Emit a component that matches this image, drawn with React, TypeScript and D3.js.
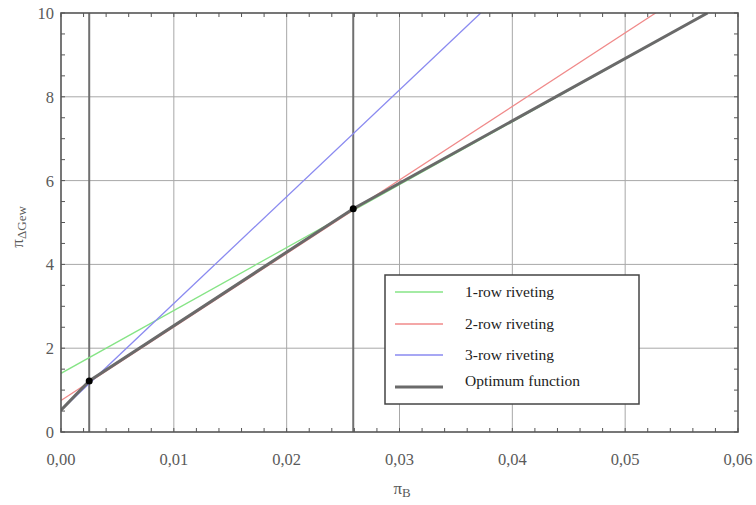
import React from "react";
import * as d3 from "d3";

// each line is straight, given by its end points
const row1X = [0, 0.0573];
const row1Y = [1.4, 10];
const row2X = [0, 0.0527];
const row2Y = [0.75, 10];
const row3X = [0, 0.0372];
const row3Y = [0.52, 10];
const optimumX = [0, 0.0025, 0.0259, 0.0573];
const optimumY = [0.52, 1.22, 5.33, 10];
const switchX = [0.0025, 0.0259];
const switchY = [1.22, 5.33];

const xTicks = [0, 0.01, 0.02, 0.03, 0.04, 0.05, 0.06];
const yTicks = [0, 2, 4, 6, 8, 10];
const legendLabels = ["1-row riveting", "2-row riveting", "3-row riveting", "Optimum function"];

const width = 756;
const height = 505;
const margin = { top: 13, right: 18, bottom: 73, left: 61 };

const serif = "'Liberation Serif', 'DejaVu Serif', serif";

export default function App() {
  const plotWidth = width - margin.left - margin.right;
  const plotHeight = height - margin.top - margin.bottom;

  const x = d3.scaleLinear().domain([0, 0.06]).range([0, plotWidth]);
  const y = d3.scaleLinear().domain([0, 10]).range([plotHeight, 0]);

  const line = d3
    .line<[number, number]>()
    .x((d) => x(d[0]))
    .y((d) => y(d[1]));

  const pts = (xs: number[], ys: number[]) => xs.map((v, i) => [v, ys[i]] as [number, number]);

  const series = [
    { xs: row1X, ys: row1Y, color: "#86e486", w: 1.3 },
    { xs: row2X, ys: row2Y, color: "#f08a8a", w: 1.3 },
    { xs: row3X, ys: row3Y, color: "#8a8af0", w: 1.3 },
  ];

  const xMinor = d3.range(0, 0.0601, 0.002);
  const yMinor = d3.range(0, 10.01, 0.5);

  const legend = { x: 385 - margin.left, y: 275 - margin.top, w: 254, h: 129 };
  const legendColors = ["#86e486", "#f08a8a", "#8a8af0", "#6a6a6a"];
  const legendRows = [17, 49, 80, 112];

  return (
    <svg width={width} height={height} style={{ position: "absolute", left: 0, top: 0, background: "#fff" }}>
      <g transform={`translate(${margin.left},${margin.top})`}>
        {/* grid */}
        {xTicks.slice(1, -1).map((t) => (
          <line key={"gx" + t} x1={x(t)} x2={x(t)} y1={0} y2={plotHeight} stroke="#a8a8a8" strokeWidth={1} />
        ))}
        {yTicks.slice(1, -1).map((t) => (
          <line key={"gy" + t} x1={0} x2={plotWidth} y1={y(t)} y2={y(t)} stroke="#a8a8a8" strokeWidth={1} />
        ))}

        {/* vertical lines at the switch points */}
        {switchX.map((t) => (
          <line key={"sw" + t} x1={x(t)} x2={x(t)} y1={0} y2={plotHeight} stroke="#707070" strokeWidth={2} />
        ))}

        <clipPath id="plot-clip">
          <rect x={0} y={0} width={plotWidth} height={plotHeight} />
        </clipPath>
        <g clipPath="url(#plot-clip)">
          {series.map((s, i) => (
            <path key={i} d={line(pts(s.xs, s.ys)) || ""} fill="none" stroke={s.color} strokeWidth={s.w} />
          ))}
          <path d={line(pts(optimumX, optimumY)) || ""} fill="none" stroke="#6a6a6a" strokeWidth={3} />
        </g>

        {switchX.map((t, i) => (
          <circle key={"dot" + t} cx={x(t)} cy={y(switchY[i])} r={3.5} fill="#000" />
        ))}

        {/* minor ticks inside on all four sides */}
        {xMinor.map((t, i) => (
          <g key={"mx" + i}>
            <line x1={x(t)} x2={x(t)} y1={plotHeight} y2={plotHeight - 4} stroke="#555" />
            <line x1={x(t)} x2={x(t)} y1={0} y2={4} stroke="#555" />
          </g>
        ))}
        {yMinor.map((t, i) => (
          <g key={"my" + i}>
            <line x1={0} x2={4} y1={y(t)} y2={y(t)} stroke="#555" />
            <line x1={plotWidth} x2={plotWidth - 4} y1={y(t)} y2={y(t)} stroke="#555" />
          </g>
        ))}

        {/* frame */}
        <rect x={0} y={0} width={plotWidth} height={plotHeight} fill="none" stroke="#555" strokeWidth={1.6} />

        {/* tick labels */}
        {xTicks.map((t) => (
          <text key={"tx" + t} x={x(t)} y={plotHeight + 33} textAnchor="middle" fontFamily={serif} fontSize={16.5} fill="#5a5a5a">
            {d3.format(".2f")(t).replace(".", ",")}
          </text>
        ))}
        {yTicks.map((t) => (
          <text key={"ty" + t} x={-7} y={y(t) + 6} textAnchor="end" fontFamily={serif} fontSize={16.5} fill="#5a5a5a">
            {t}
          </text>
        ))}

        {/* axis titles */}
        <text x={x(0.03) - 6} y={plotHeight + 62} fontFamily={serif} fontSize={17} fill="#5a5a5a">
          π<tspan fontSize={13} dy={3}>B</tspan>
        </text>
        <text
          transform={`translate(${-38},${y(4.4)}) rotate(-90)`}
          fontFamily={serif}
          fontSize={17}
          fill="#5a5a5a"
        >
          π<tspan fontSize={13} dy={3}>ΔGew</tspan>
        </text>

        {/* legend */}
        <g transform={`translate(${legend.x},${legend.y})`}>
          <rect x={0} y={0} width={legend.w} height={legend.h} fill="#fff" stroke="#444" strokeWidth={1.5} />
          {legendLabels.map((lab, i) => (
            <g key={lab} transform={`translate(0,${legendRows[i]})`}>
              <line x1={10} x2={58} y1={0} y2={0} stroke={legendColors[i]} strokeWidth={i === 3 ? 3 : 1.5} />
              <text x={80} y={i === 3 ? -1 : 5} fontFamily={serif} fontSize={15.5} fill="#222">
                {lab}
              </text>
            </g>
          ))}
        </g>
      </g>
    </svg>
  );
}
